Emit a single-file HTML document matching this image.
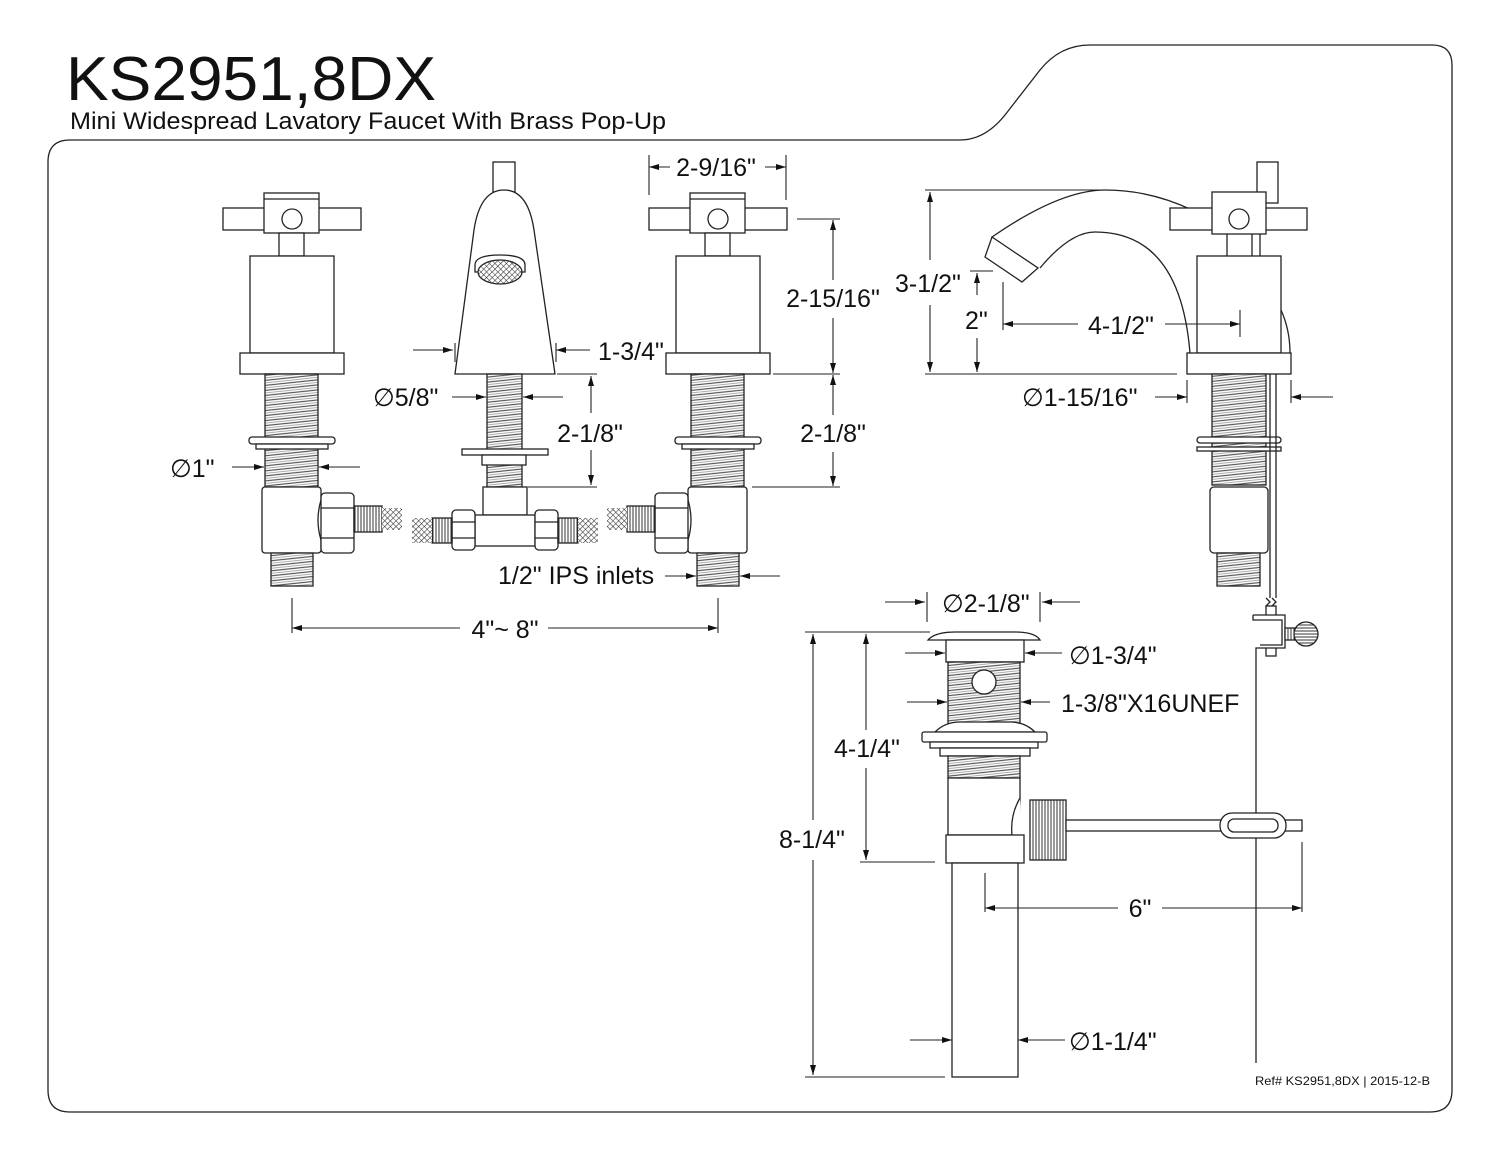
<!DOCTYPE html>
<html><head><meta charset="utf-8"><style>
html,body{margin:0;padding:0;background:#fff}
svg{display:block}
text{font-family:"Liberation Sans Narrow","Liberation Sans",sans-serif;fill:#111}
</style></head><body>
<svg width="1500" height="1159" viewBox="0 0 1500 1159" xmlns="http://www.w3.org/2000/svg">
<defs>
<marker id="a" viewBox="0 0 10 6" refX="10" refY="3" markerWidth="14" markerHeight="6" markerUnits="userSpaceOnUse" orient="auto-start-reverse"><path d="M0,0L10,3L0,6z" fill="#111"/></marker>
<pattern id="th" width="6" height="5" patternUnits="userSpaceOnUse" patternTransform="rotate(-6)"><rect width="6" height="5" fill="#fff"/><line x1="0" y1="1" x2="6" y2="1" stroke="#555" stroke-width="1.2"/><line x1="0" y1="3.5" x2="6" y2="3.5" stroke="#999" stroke-width="0.8"/></pattern>
<pattern id="hx" width="4" height="4" patternUnits="userSpaceOnUse" patternTransform="rotate(45)"><rect width="4" height="4" fill="#fff"/><line x1="0" y1="0" x2="0" y2="4" stroke="#333" stroke-width="1.2"/><line x1="0" y1="0" x2="4" y2="0" stroke="#333" stroke-width="1"/></pattern>
<pattern id="kn" width="3" height="10" patternUnits="userSpaceOnUse"><rect width="3" height="10" fill="#fff"/><line x1="1" y1="0" x2="1" y2="10" stroke="#333" stroke-width="1"/></pattern>
<pattern id="kh" width="10" height="3" patternUnits="userSpaceOnUse"><rect width="10" height="3" fill="#fff"/><line x1="0" y1="1" x2="10" y2="1" stroke="#333" stroke-width="1"/></pattern>
</defs>
<g fill="none" stroke="#222" stroke-width="1.3">
<path d="M48,1090 L48,162 Q48,140 70,140 L960,140 Q985,140 1005,115 L1040,70 Q1060,45 1090,45 L1432,45 Q1452,45 1452,65 L1452,1090 Q1452,1112 1430,1112 L70,1112 Q48,1112 48,1090 Z"/>
</g>
<text x="66" y="100" font-size="62" font-family="Liberation Sans,sans-serif" textLength="370" lengthAdjust="spacingAndGlyphs">KS2951,8DX</text>
<text x="70" y="129" font-size="24" textLength="596" lengthAdjust="spacingAndGlyphs">Mini Widespread Lavatory Faucet With Brass Pop-Up</text>

<g id="handle" fill="#fff" stroke="#222" stroke-width="1.3">
<rect x="223" y="208" width="138" height="22"/>
<rect x="264" y="193" width="55" height="40"/>
<line x1="264" y1="199" x2="319" y2="199"/>
<circle cx="292" cy="219" r="10"/>
<rect x="279" y="233" width="25" height="23"/>
<rect x="250" y="256" width="84" height="97"/>
<rect x="240" y="353" width="104" height="21"/>
<rect x="265" y="374" width="53" height="113" fill="url(#th)"/>
<rect x="249" y="437" width="86" height="7" rx="3"/>
<rect x="256" y="444" width="72" height="5"/>
<rect x="262" y="487" width="59" height="66" rx="3"/>
<rect x="271" y="553" width="42" height="33" fill="url(#th)"/>
</g>
<g id="lnut" fill="#fff" stroke="#222" stroke-width="1.3">
<path d="M321,500 Q315,520 321,540"/>
<rect x="321" y="493" width="33" height="60" rx="4"/>
<line x1="321" y1="508" x2="354" y2="508"/><line x1="321" y1="538" x2="354" y2="538"/>
<rect x="354" y="506" width="28" height="26" fill="url(#kn)"/>
<rect x="382" y="508" width="20" height="22" fill="url(#hx)" stroke="none"/>
</g>
<use href="#handle" x="426"/>
<use href="#lnut" transform="translate(1009,0) scale(-1,1)"/>

<!-- spout front -->
<g fill="#fff" stroke="#222" stroke-width="1.3">
<rect x="493" y="162" width="22" height="30"/>
<path d="M455,374 L474,230 Q480,190 504,190 Q528,190 534,230 L555,374 Z"/>
<path d="M475,265 Q475,255 500,255 Q525,255 525,265 L525,272 L475,272Z"/>
<ellipse cx="500" cy="272" rx="22" ry="12" fill="url(#hx)"/>
<rect x="487" y="374" width="35" height="113" fill="url(#th)"/>
<rect x="462" y="449" width="86" height="6"/>
<rect x="482" y="455" width="44" height="10"/>
<rect x="483" y="487" width="44" height="28"/>
<rect x="475" y="515" width="60" height="31"/>
<rect x="452" y="510" width="23" height="40" rx="4"/><line x1="452" y1="522" x2="475" y2="522"/><line x1="452" y1="538" x2="475" y2="538"/>
<rect x="535" y="510" width="23" height="40" rx="4"/><line x1="535" y1="522" x2="558" y2="522"/><line x1="535" y1="538" x2="558" y2="538"/>
<rect x="432" y="518" width="20" height="25" fill="url(#kn)"/>
<rect x="558" y="518" width="20" height="25" fill="url(#kn)"/>
<rect x="412" y="518" width="20" height="25" fill="url(#hx)" stroke="none"/>
<rect x="578" y="518" width="20" height="25" fill="url(#hx)" stroke="none"/>
</g>

<!-- side view -->
<g fill="#fff" stroke="#222" stroke-width="1.3">
<path d="M992,237 Q1060,190 1105,190 Q1150,190 1192,210"/>
<path d="M1040,268 Q1070,232 1095,232 Q1180,232 1190,353"/>
<path d="M992,237 L985,257 L1022,282 L1038,268 Z"/>
<rect x="1257" y="162" width="21" height="41"/>
<rect x="1170" y="208" width="137" height="22"/>
<rect x="1212" y="192" width="54" height="42"/>
<circle cx="1239" cy="219" r="10"/>
<line x1="1227" y1="234" x2="1227" y2="256"/><line x1="1252" y1="234" x2="1252" y2="256"/><line x1="1260" y1="234" x2="1260" y2="256"/>
<rect x="1197" y="256" width="84" height="97"/>
<path d="M1281,310 Q1290,330 1290,353"/>
<rect x="1187" y="353" width="104" height="21"/>
<rect x="1212" y="374" width="54" height="111" fill="url(#th)"/>
<rect x="1197" y="437" width="84" height="6" rx="3"/>
<rect x="1197" y="447" width="84" height="4"/>
<rect x="1210" y="487" width="58" height="66" rx="4"/>
<rect x="1217" y="553" width="43" height="33" fill="url(#th)"/>
<line x1="1270" y1="374" x2="1270" y2="598"/><line x1="1276" y1="374" x2="1276" y2="598"/>
<path d="M1266,598 l4,4 -4,4 M1272,598 l4,4 -4,4"/>
<rect x="1266" y="606" width="10" height="50"/>
<path d="M1253,615 L1285,615 L1285,648 L1256,648 L1256,1063"/>
<path d="M1253,615 L1253,620 L1282,620 L1282,645 L1260,645"/>
<rect x="1285" y="628" width="10" height="12" fill="url(#kn)"/>
<circle cx="1306" cy="634" r="12" fill="url(#kh)"/>
</g>

<!-- drain -->
<g fill="#fff" stroke="#222" stroke-width="1.3">
<path d="M928,640 Q935,632 955,632 L1015,632 Q1035,632 1040,640 Z"/>
<rect x="946" y="640" width="78" height="22"/>
<rect x="948" y="662" width="72" height="66" fill="url(#th)"/>
<circle cx="984" cy="682" r="12"/>
<path d="M935,732 Q945,722 960,722 L1010,722 Q1025,722 1035,732 Z"/>
<rect x="922" y="732" width="125" height="10" rx="2"/>
<rect x="930" y="742" width="108" height="6"/>
<rect x="940" y="748" width="90" height="8"/>
<rect x="948" y="756" width="72" height="22" fill="url(#th)"/>
<rect x="948" y="778" width="72" height="57"/>
<path d="M1020,798 Q1010,815 1012,835 Q1018,855 1024,860"/>
<rect x="946" y="835" width="78" height="28"/>
<rect x="952" y="863" width="66" height="214"/>
<rect x="1030" y="800" width="36" height="60" fill="url(#kn)"/>
<rect x="1066" y="820" width="236" height="11"/>
<rect x="1220" y="813" width="66" height="25" rx="12"/>
<rect x="1228" y="819" width="50" height="13" rx="6"/>
</g>

<!-- dimension lines -->
<g stroke="#222" stroke-width="1.1" fill="none">
<line x1="649" y1="155" x2="649" y2="195"/><line x1="786" y1="155" x2="786" y2="200"/>
<line x1="670" y1="167" x2="649" y2="167" marker-end="url(#a)"/><line x1="765" y1="167" x2="786" y2="167" marker-end="url(#a)"/>
<line x1="797" y1="219" x2="840" y2="219"/><line x1="773" y1="374" x2="840" y2="374"/><line x1="752" y1="487" x2="840" y2="487"/>
<line x1="833" y1="220" x2="833" y2="280" marker-start="url(#a)"/><line x1="833" y1="318" x2="833" y2="373" marker-end="url(#a)"/>
<line x1="833" y1="375" x2="833" y2="415" marker-start="url(#a)"/><line x1="833" y1="452" x2="833" y2="486" marker-end="url(#a)"/>
<line x1="413" y1="350" x2="453" y2="350" marker-end="url(#a)"/><line x1="590" y1="350" x2="556" y2="350" marker-end="url(#a)"/>
<line x1="455" y1="343" x2="455" y2="362"/><line x1="556" y1="343" x2="556" y2="362"/>
<line x1="452" y1="397" x2="486" y2="397" marker-end="url(#a)"/><line x1="563" y1="397" x2="523" y2="397" marker-end="url(#a)"/>
<line x1="557" y1="374" x2="597" y2="374"/><line x1="528" y1="487" x2="597" y2="487"/>
<line x1="591" y1="376" x2="591" y2="413" marker-start="url(#a)"/><line x1="591" y1="450" x2="591" y2="485" marker-end="url(#a)"/>
<line x1="232" y1="467" x2="264" y2="467" marker-end="url(#a)"/><line x1="360" y1="467" x2="319" y2="467" marker-end="url(#a)"/>
<line x1="665" y1="576" x2="696" y2="576" marker-end="url(#a)"/><line x1="780" y1="576" x2="740" y2="576" marker-end="url(#a)"/>
<line x1="292" y1="598" x2="292" y2="633"/><line x1="718" y1="598" x2="718" y2="633"/>
<line x1="292" y1="628" x2="460" y2="628" marker-start="url(#a)"/><line x1="548" y1="628" x2="718" y2="628" marker-end="url(#a)"/>
<!-- side -->
<line x1="925" y1="190" x2="1105" y2="190"/><line x1="925" y1="374" x2="1177" y2="374"/>
<line x1="930" y1="192" x2="930" y2="260" marker-start="url(#a)"/><line x1="930" y1="305" x2="930" y2="372" marker-end="url(#a)"/>
<line x1="970" y1="271" x2="993" y2="271"/>
<line x1="977" y1="273" x2="977" y2="295" marker-start="url(#a)"/><line x1="977" y1="338" x2="977" y2="372" marker-end="url(#a)"/>
<line x1="1003" y1="282" x2="1003" y2="330"/><line x1="1240" y1="310" x2="1240" y2="337"/>
<line x1="1003" y1="324" x2="1078" y2="324" marker-start="url(#a)"/><line x1="1165" y1="324" x2="1240" y2="324" marker-end="url(#a)"/>
<line x1="1187" y1="380" x2="1187" y2="403"/><line x1="1291" y1="380" x2="1291" y2="403"/>
<line x1="1155" y1="397" x2="1187" y2="397" marker-end="url(#a)"/><line x1="1333" y1="397" x2="1291" y2="397" marker-end="url(#a)"/>
<!-- drain -->
<line x1="927" y1="592" x2="927" y2="622"/><line x1="1040" y1="592" x2="1040" y2="622"/>
<line x1="885" y1="602" x2="925" y2="602" marker-end="url(#a)"/><line x1="1080" y1="602" x2="1042" y2="602" marker-end="url(#a)"/>
<line x1="905" y1="653" x2="945" y2="653" marker-end="url(#a)"/><line x1="1062" y1="653" x2="1025" y2="653" marker-end="url(#a)"/>
<line x1="907" y1="702" x2="947" y2="702" marker-end="url(#a)"/><line x1="1050" y1="702" x2="1021" y2="702" marker-end="url(#a)"/>
<line x1="805" y1="632" x2="930" y2="632"/><line x1="860" y1="862" x2="935" y2="862"/><line x1="805" y1="1077" x2="945" y2="1077"/>
<line x1="866" y1="634" x2="866" y2="730" marker-start="url(#a)"/><line x1="866" y1="768" x2="866" y2="860" marker-end="url(#a)"/>
<line x1="813" y1="634" x2="813" y2="820" marker-start="url(#a)"/><line x1="813" y1="860" x2="813" y2="1075" marker-end="url(#a)"/>
<line x1="985" y1="873" x2="985" y2="912"/><line x1="1302" y1="842" x2="1302" y2="912"/>
<line x1="985" y1="908" x2="1118" y2="908" marker-start="url(#a)"/><line x1="1162" y1="908" x2="1302" y2="908" marker-end="url(#a)"/>
<line x1="910" y1="1040" x2="952" y2="1040" marker-end="url(#a)"/><line x1="1065" y1="1040" x2="1018" y2="1040" marker-end="url(#a)"/>
</g>

<g font-size="25">
<text x="716" y="176" text-anchor="middle">2-9/16"</text>
<text x="833" y="307" text-anchor="middle">2-15/16"</text>
<text x="833" y="442" text-anchor="middle">2-1/8"</text>
<text x="598" y="360">1-3/4"</text>
<text x="373" y="406">∅5/8"</text>
<text x="590" y="442" text-anchor="middle">2-1/8"</text>
<text x="170" y="477">∅1"</text>
<text x="498" y="584">1/2" IPS inlets</text>
<text x="505" y="638" text-anchor="middle">4"~ 8"</text>
<text x="895" y="292">3-1/2"</text>
<text x="965" y="329">2"</text>
<text x="1088" y="334">4-1/2"</text>
<text x="1022" y="406">∅1-15/16"</text>
<text x="942" y="612">∅2-1/8"</text>
<text x="1069" y="664">∅1-3/4"</text>
<text x="1061" y="712">1-3/8"X16UNEF</text>
<text x="834" y="757">4-1/4"</text>
<text x="779" y="848">8-1/4"</text>
<text x="1140" y="917" text-anchor="middle">6"</text>
<text x="1069" y="1050">∅1-1/4"</text>
</g>
<text x="1255" y="1085" font-size="12" textLength="175" lengthAdjust="spacingAndGlyphs">Ref# KS2951,8DX | 2015-12-B</text>
</svg>
</body></html>
